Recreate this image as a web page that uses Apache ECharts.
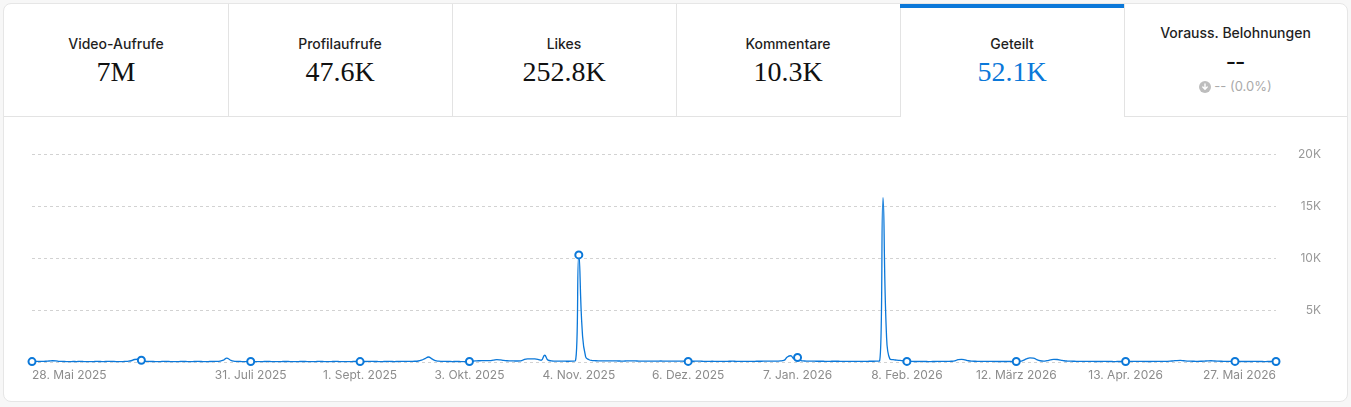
<!DOCTYPE html>
<html>
<head>
<meta charset="utf-8">
<script src="https://cdn.jsdelivr.net/npm/echarts@6/dist/echarts.min.js"></script>
<style>
html, body { margin: 0; padding: 0; background: #f7f7f7; width: 1351px; height: 407px; overflow: hidden; }
#card { position: absolute; left: 3px; top: 3px; width: 1343px; height: 397px; border: 1px solid #e6e6e6; border-radius: 8px; background: #fff; overflow: hidden; }
.tab { position: absolute; top: 0; height: 113px; width: 225px; box-sizing: border-box; border-right: 1px solid #e3e3e3; border-bottom: 1px solid #e3e3e3; }
.tab.last { border-right: none; width: 223px; }
.tab.active { border-bottom: none; }
.tab.active .bar { position: absolute; left: 0; right: 0; top: 0; height: 4px; background: #0b78d9; }
.t { position: absolute; left: 0; right: 0; text-align: center; font: 500 14px Inter, sans-serif; line-height: 14px; color: #1f1f1f; }
.v { position: absolute; left: 0; right: 0; text-align: center; font: 28px "Liberation Serif", serif; line-height: 28px; color: #111; }
.s { position: absolute; left: 0; right: 0; text-align: center; font: 13px Inter, sans-serif; line-height: 13px; color: #aaa; }
.s svg { vertical-align: -2px; margin-right: 3px; }
#main { position: absolute; left: 0; top: 113px; width: 1343px; height: 284px; }
</style>
</head>
<body>
<div id="card">
  <div id="tabs"></div>
  <div id="main"></div>
</div>
<script>
// Kennzahlen oben
var tabTitles = ['Video-Aufrufe', 'Profilaufrufe', 'Likes', 'Kommentare', 'Geteilt', 'Vorauss. Belohnungen'];
var tabValues = ['7M', '47.6K', '252.8K', '10.3K', '52.1K', '--'];
var activeTab = 4;

// Tageswerte "Geteilt", ab 28. Mai 2025
var startDate = [2025, 4, 28];
var shares = [
  40, 55, 48, 62, 70, 95, 120, 110, 60, 52,
  45, 38, 50, 42, 58, 47, 40, 36, 44, 52,
  48, 41, 55, 60, 47, 43, 39, 52, 70, 120,
  240, 270, 170, 70, 55, 48, 44, 40, 48, 53,
  46, 42, 38, 45, 51, 47, 40, 43, 55, 49,
  44, 40, 47, 52, 60, 85, 180, 380, 190, 80,
  55, 48, 42, 46, 50, 44, 39, 41, 47, 52,
  45, 40, 38, 43, 49, 46, 41, 37, 44, 50,
  47, 42, 39, 45, 52, 48, 43, 40, 46, 51,
  44, 41, 38, 42, 48, 45, 40, 43, 49, 54,
  50, 46, 42, 47, 53, 49, 44, 48, 55, 60,
  58, 62, 70, 95, 180, 330, 480, 300, 140, 80,
  60, 52, 48, 45, 50, 47, 43, 46, 50, 90,
  110, 120, 125, 130, 140, 180, 220, 200, 150, 120,
  110, 100, 95, 110, 240, 300, 310, 300, 260, 170,
  650, 180, 110, 90, 85, 80, 75, 70, 80, 110,
  10300, 3000, 500, 220, 140, 120, 110, 105, 100, 110,
  105, 100, 95, 90, 100, 110, 105, 95, 90, 85,
  90, 85, 80, 88, 95, 90, 85, 80, 75, 82,
  78, 72, 60, 70, 75, 80, 72, 68, 65, 70,
  66, 62, 58, 64, 70, 75, 68, 62, 58, 55,
  60, 65, 70, 72, 75, 78, 80, 85, 90, 100,
  150, 480, 600, 300, 430, 130, 95, 85, 80, 75,
  70, 72, 68, 65, 70, 74, 70, 66, 62, 65,
  68, 64, 60, 62, 66, 70, 72, 80, 100, 15800,
  2800, 300, 220, 180, 150, 120, 60, 55, 50, 48,
  52, 50, 46, 44, 48, 52, 55, 58, 62, 70,
  110, 230, 260, 210, 120, 80, 70, 65, 60, 58,
  55, 52, 50, 48, 46, 50, 48, 45, 50, 70,
  150, 300, 400, 380, 220, 120, 90, 130, 200, 250,
  240, 180, 120, 90, 75, 70, 65, 60, 58, 55,
  52, 50, 48, 52, 55, 50, 47, 45, 48, 50,
  52, 55, 58, 60, 56, 52, 50, 48, 52, 55,
  58, 62, 66, 80, 110, 140, 150, 120, 90, 75,
  70, 68, 72, 85, 110, 120, 95, 80, 70, 65,
  60, 58, 55, 52, 50, 48, 46, 50, 52, 48,
  46, 44, 48, 50, 52
];
var labelDays = [0, 64, 96, 128, 160, 192, 224, 256, 288, 320, 364];
var markerDays = [0, 32, 64, 96, 128, 160, 192, 224, 256, 288, 320, 352, 364];
var yTicks = [0, 5000, 10000, 15000, 20000];

var monthNames = ['Jan.', 'Feb.', 'März', 'Apr.', 'Mai', 'Juni', 'Juli', 'Aug.', 'Sept.', 'Okt.', 'Nov.', 'Dez.'];
var days = shares.map(function (v, i) {
  var d = new Date(Date.UTC(startDate[0], startDate[1], startDate[2] + i));
  return d.getUTCDate() + '. ' + monthNames[d.getUTCMonth()] + ' ' + d.getUTCFullYear();
});

// Reiter bauen
var tabsHtml = '';
tabTitles.forEach(function (t, i) {
  var cls = 'tab' + (i === activeTab ? ' active' : '') + (i === tabTitles.length - 1 ? ' last' : '');
  tabsHtml += '<div class="' + cls + '" style="left:' + (i * 224) + 'px">';
  if (i === activeTab) tabsHtml += '<div class="bar"></div>';
  if (i === tabTitles.length - 1) {
    tabsHtml += '<div class="t" style="top:22px">' + t + '</div>';
    tabsHtml += '<div class="v" style="top:42px">' + tabValues[i] + '</div>';
    tabsHtml += '<div class="s" style="top:76px"><svg width="12" height="12" viewBox="0 0 12 12"><circle cx="6" cy="6" r="6" fill="#bdbdbd"/><path d="M6 3v5M3.8 6L6 8.3 8.2 6" stroke="#fff" stroke-width="1.4" fill="none" stroke-linecap="round"/></svg>-- (0.0%)</div>';
  } else {
    tabsHtml += '<div class="t" style="top:33px">' + t + '</div>';
    tabsHtml += '<div class="v" style="top:54px;' + (i === activeTab ? 'color:#0b78d9' : '') + '">' + tabValues[i] + '</div>';
  }
  tabsHtml += '</div>';
});
document.getElementById('tabs').innerHTML = tabsHtml;

var seriesData = shares.map(function (v, i) {
  return markerDays.indexOf(i) >= 0 ? { value: v } : { value: v, symbol: 'none' };
});

var chart = echarts.init(document.getElementById('main'));
chart.setOption({
  animation: false,
  grid: { left: 28, right: 71, top: 37, bottom: 39 },
  xAxis: {
    type: 'category',
    boundaryGap: false,
    data: days,
    axisLine: { show: false },
    axisTick: { show: false },
    axisLabel: {
      interval: function (i) { return labelDays.indexOf(i) >= 0; },
      color: '#8c8c8c',
      fontSize: 12,
      fontFamily: 'Inter',
      margin: 7,
      alignMinLabel: 'left',
      alignMaxLabel: 'right'
    },
    splitLine: { show: false }
  },
  yAxis: {
    type: 'value',
    position: 'right',
    min: yTicks[0],
    max: yTicks[yTicks.length - 1],
    interval: 5000,
    axisLine: { show: false },
    axisTick: { show: false },
    axisLabel: {
      color: '#999',
      fontSize: 12,
      fontFamily: 'Inter',
      align: 'right',
      margin: 45,
      formatter: function (v) { return v === 0 ? '' : (v / 1000) + 'K'; }
    },
    splitLine: { lineStyle: { color: '#d2d2d2', type: [3, 3] } }
  },
  series: [{
    type: 'line',
    data: seriesData,
    smooth: true,
    showSymbol: true,
    showAllSymbol: true,
    symbol: 'emptyCircle',
    symbolSize: 7,
    lineStyle: { color: '#0b78d9', width: 1.3 },
    itemStyle: { color: '#0b78d9', borderWidth: 1.1 }
  }]
});
</script>
</body>
</html>
